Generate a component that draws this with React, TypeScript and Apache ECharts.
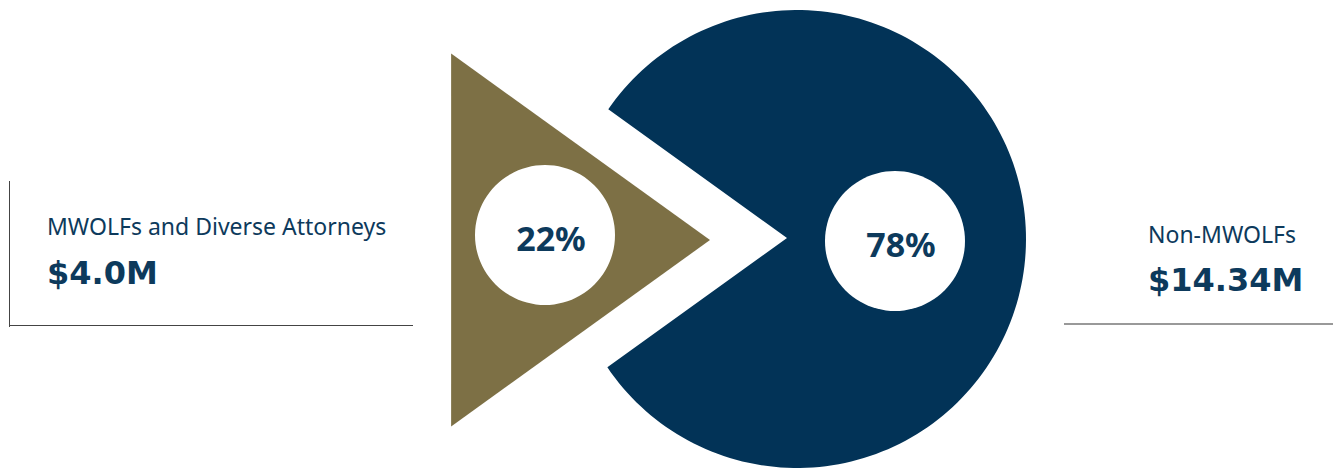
import React, { useEffect, useRef } from "react";
import * as echarts from "echarts";

const categories = ["MWOLFs and Diverse Attorneys", "Non-MWOLFs"];
const amounts = [4.0, 14.34];
const amountLabels = ["$4.0M", "$14.34M"];
const sliceColors = ["#7d7045", "#023357"];

const TEXT_NAVY = "#0d3a5c";

export default function App() {
  const ref = useRef<HTMLDivElement>(null);
  useEffect(() => {
    document.body.style.margin = "0";
    const chart = echarts.init(ref.current as HTMLDivElement, null, { renderer: "svg" });
    const total = amounts.reduce((a, b) => a + b, 0);
    const pct = amounts.map((v) => Math.round((v / total) * 100));
    const padDeg = 7;
    const half = ((((amounts[0] / total) * 360 - padDeg) / 2) * Math.PI) / 180;

    const renderItem = (params: any) => {
      const i = params.dataIndex;
      const children: any[] = [];
      if (i === 0) {
        const ax = 710, ay = 240, L = 319;
        const pts = [
          [ax - L * Math.cos(half), ay - L * Math.sin(half)],
          [ax, ay],
          [ax - L * Math.cos(half), ay + L * Math.sin(half)],
        ];
        children.push({ type: "polygon", shape: { points: pts }, style: { fill: sliceColors[0] } });
        children.push({ type: "circle", shape: { cx: 545, cy: 235, r: 70 }, style: { fill: "#ffffff" } });
        children.push({
          type: "text",
          style: { text: pct[0] + "%", x: 551, y: 238, fill: TEXT_NAVY, font: 'bold 34px "Noto Sans"', textAlign: "center", textVerticalAlign: "middle" },
        });
        children.push({ type: "line", shape: { x1: 9.5, y1: 181, x2: 9.5, y2: 327 }, style: { stroke: "#444", lineWidth: 1 } });
        children.push({ type: "line", shape: { x1: 9, y1: 325.5, x2: 413, y2: 325.5 }, style: { stroke: "#444", lineWidth: 1 } });
        children.push({
          type: "text",
          style: { text: categories[0], x: 47, y: 226, fill: TEXT_NAVY, font: '23px "Noto Sans"', textAlign: "left", textVerticalAlign: "middle" },
        });
        children.push({
          type: "text",
          style: { text: amountLabels[0], x: 47, y: 273, fill: TEXT_NAVY, font: 'bold 32px "DejaVu Sans"', textAlign: "left", textVerticalAlign: "middle" },
        });
      } else {
        const vx = 787, vy = 238, cx = 797, cy = 239, r = 229;
        const hit = (sy: number) => {
          const dx = -Math.cos(half), dy = sy * Math.sin(half);
          const ox = vx - cx, oy = vy - cy;
          const b = 2 * (ox * dx + oy * dy);
          const c = ox * ox + oy * oy - r * r;
          const t = (-b + Math.sqrt(b * b - 4 * c)) / 2;
          return [vx + t * dx, vy + t * dy];
        };
        const p1 = hit(-1);
        const p2 = hit(1);
        const a1 = Math.atan2(p1[1] - cy, p1[0] - cx);
        const a2 = Math.atan2(p2[1] - cy, p2[0] - cx);
        const pts: number[][] = [[vx, vy]];
        const n = 180;
        for (let k = 0; k <= n; k++) {
          const a = a1 + ((a2 - a1) * k) / n;
          pts.push([cx + r * Math.cos(a), cy + r * Math.sin(a)]);
        }
        children.push({ type: "polygon", shape: { points: pts }, style: { fill: sliceColors[1] } });
        children.push({ type: "circle", shape: { cx: 895, cy: 241, r: 70 }, style: { fill: "#ffffff" } });
        children.push({
          type: "text",
          style: { text: pct[1] + "%", x: 901, y: 244, fill: TEXT_NAVY, font: 'bold 34px "Noto Sans"', textAlign: "center", textVerticalAlign: "middle" },
        });
        children.push({ type: "line", shape: { x1: 1064, y1: 324, x2: 1333, y2: 324 }, style: { stroke: "#999", lineWidth: 2 } });
        children.push({
          type: "text",
          style: { text: categories[1], x: 1148, y: 234, fill: TEXT_NAVY, font: '23px "Noto Sans"', textAlign: "left", textVerticalAlign: "middle" },
        });
        children.push({
          type: "text",
          style: { text: amountLabels[1], x: 1148, y: 280, fill: TEXT_NAVY, font: 'bold 32px "DejaVu Sans"', textAlign: "left", textVerticalAlign: "middle" },
        });
      }
      return { type: "group", children };
    };

    chart.setOption({
      animation: false,
      backgroundColor: "#ffffff",
      series: [
        {
          type: "custom",
          coordinateSystem: "none",
          silent: true,
          renderItem,
          data: amounts.map((v, i) => ({ name: categories[i], value: v })),
        },
      ],
    });
    return () => chart.dispose();
  }, []);
  return <div ref={ref} style={{ width: 1333, height: 468 }} />;
}
